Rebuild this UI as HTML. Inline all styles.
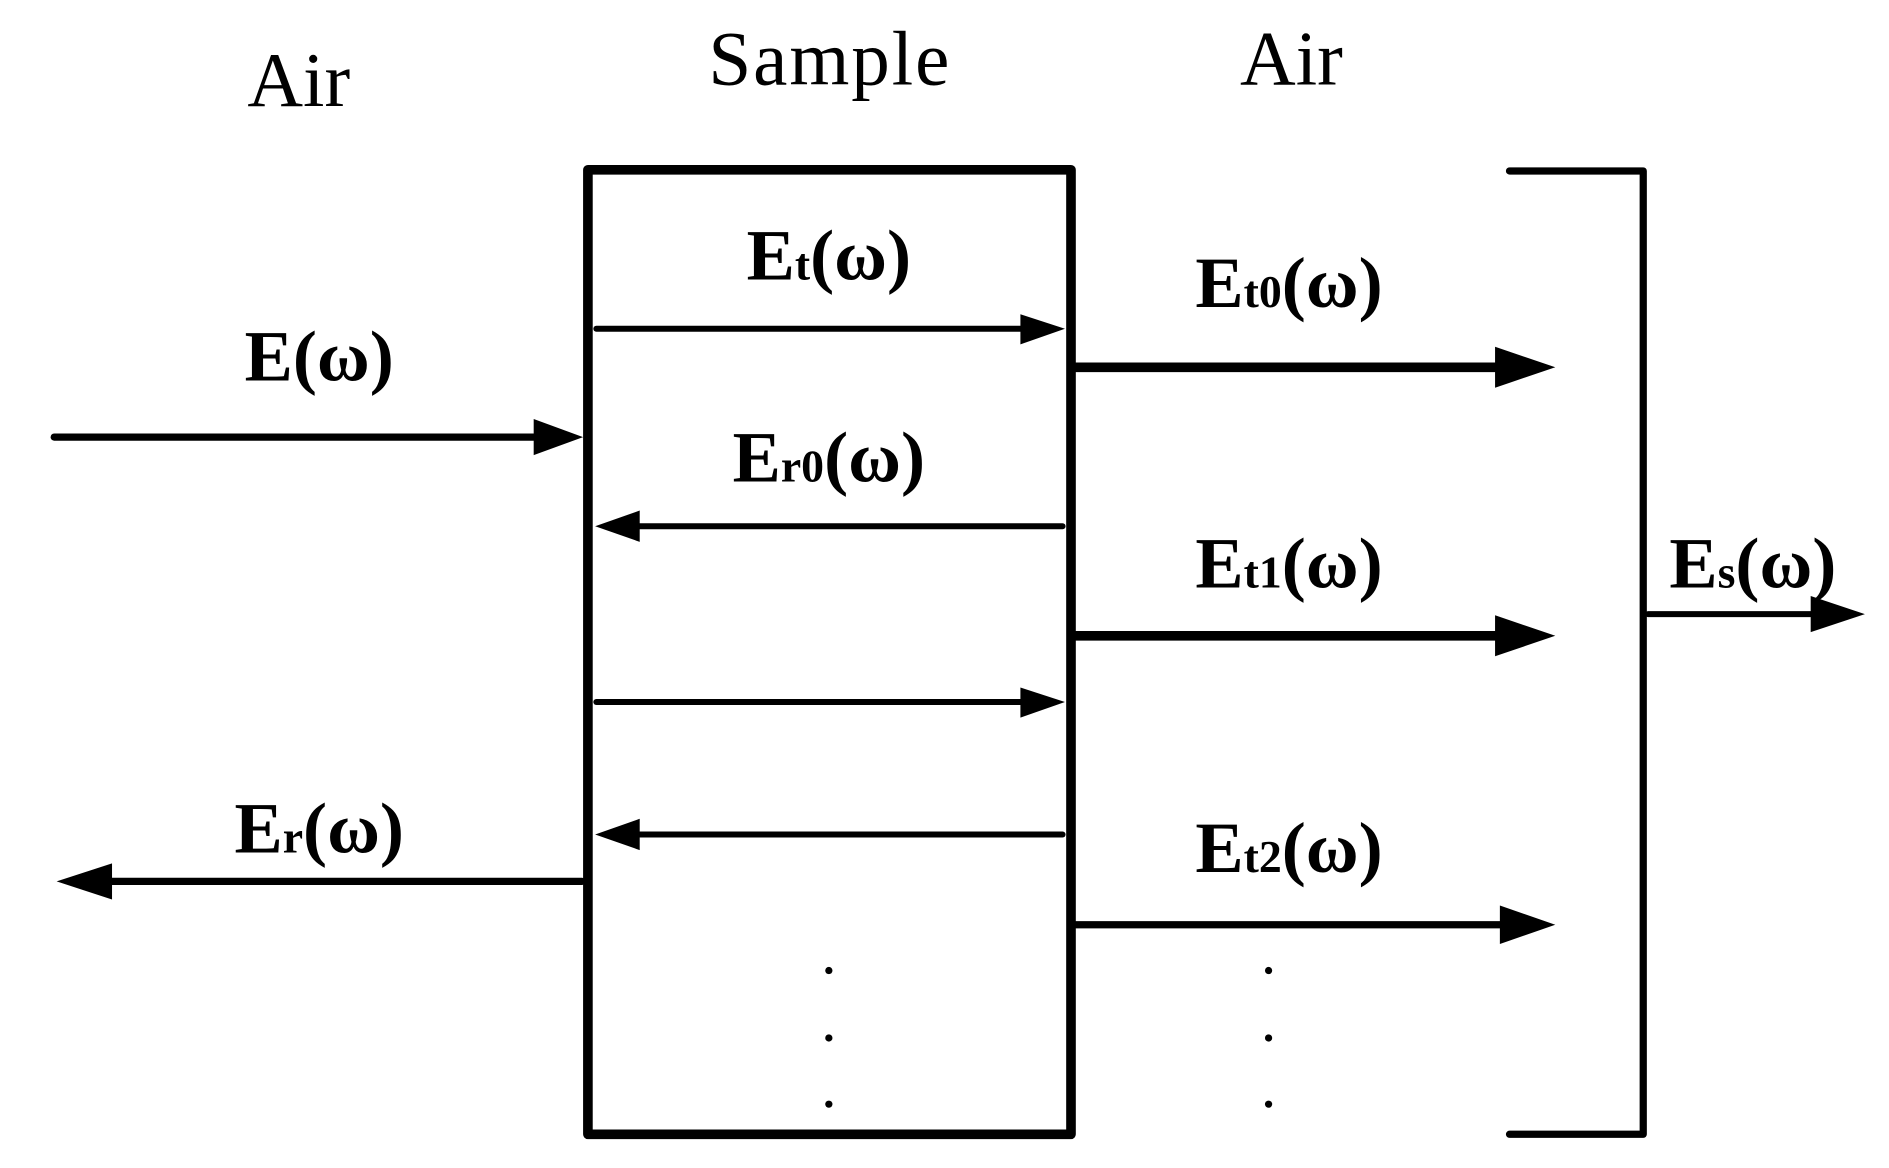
<!DOCTYPE html>
<html><head><meta charset="utf-8"><style>html,body{margin:0;padding:0;background:#fff}svg{display:block}</style></head>
<body>
<svg width="1889" height="1168" viewBox="0 0 1568 970" preserveAspectRatio="none" xmlns="http://www.w3.org/2000/svg">
<g stroke="#000" fill="none" stroke-linecap="round" stroke-linejoin="round">
<rect x="488" y="141" width="401" height="801" stroke-width="8"/>
<polyline points="1253,142 1364,142 1364,942 1253,942" stroke-width="6"/>
<g stroke-width="6">
<line x1="45" y1="363" x2="450" y2="363"/>
<line x1="495" y1="273" x2="850" y2="273" stroke-width="5"/>
<line x1="882" y1="437" x2="525" y2="437" stroke-width="5"/>
<line x1="495" y1="583" x2="850" y2="583" stroke-width="5"/>
<line x1="882" y1="693" x2="525" y2="693" stroke-width="5"/>
<line x1="483" y1="732" x2="85" y2="732"/>
<line x1="893" y1="305" x2="1248" y2="305" stroke-width="8"/>
<line x1="893" y1="528" x2="1248" y2="528" stroke-width="8"/>
<line x1="893" y1="768" x2="1250" y2="768"/>
<line x1="1368" y1="510" x2="1508" y2="510" stroke-width="5"/>
</g>
</g>
<g fill="#000">
<polygon points="443,348 484,363 443,378"/>
<polygon points="847,261 884,273 847,286"/>
<polygon points="531,424 494,437 531,450"/>
<polygon points="847,571 884,583 847,596"/>
<polygon points="531,680 494,693 531,706"/>
<polygon points="93,717 47,732 93,747"/>
<polygon points="1241,288 1291,305 1241,322"/>
<polygon points="1241,511 1291,528 1241,545"/>
<polygon points="1245,752 1291,768 1245,784"/>
<polygon points="1503,495 1548,510 1503,525"/>
<circle cx="688" cy="806" r="3"/><circle cx="688" cy="862" r="3"/><circle cx="688" cy="917" r="3"/>
<circle cx="1053" cy="806" r="3"/><circle cx="1053" cy="862" r="3"/><circle cx="1053" cy="917" r="3"/>
</g>
<g font-family="Liberation Serif, serif" fill="#000" text-anchor="middle">
<text x="248" y="88" font-size="64">Air</text>
<text x="688" y="70" font-size="64" textLength="200">Sample</text>
<text x="1072" y="70" font-size="64">Air</text>
<g font-weight="bold" font-size="60">
<text x="265" y="316">E(ω)</text>
<text x="688" y="232">E<tspan font-size="38">t</tspan>(ω)</text>
<text x="1070" y="255">E<tspan font-size="38">t0</tspan>(ω)</text>
<text x="688" y="400">E<tspan font-size="38">r0</tspan>(ω)</text>
<text x="1070" y="488">E<tspan font-size="38">t1</tspan>(ω)</text>
<text x="1455" y="488">E<tspan font-size="38">s</tspan>(ω)</text>
<text x="265" y="708">E<tspan font-size="38">r</tspan>(ω)</text>
<text x="1070" y="724">E<tspan font-size="38">t2</tspan>(ω)</text>
</g>
</g>
</svg>
</body></html>
